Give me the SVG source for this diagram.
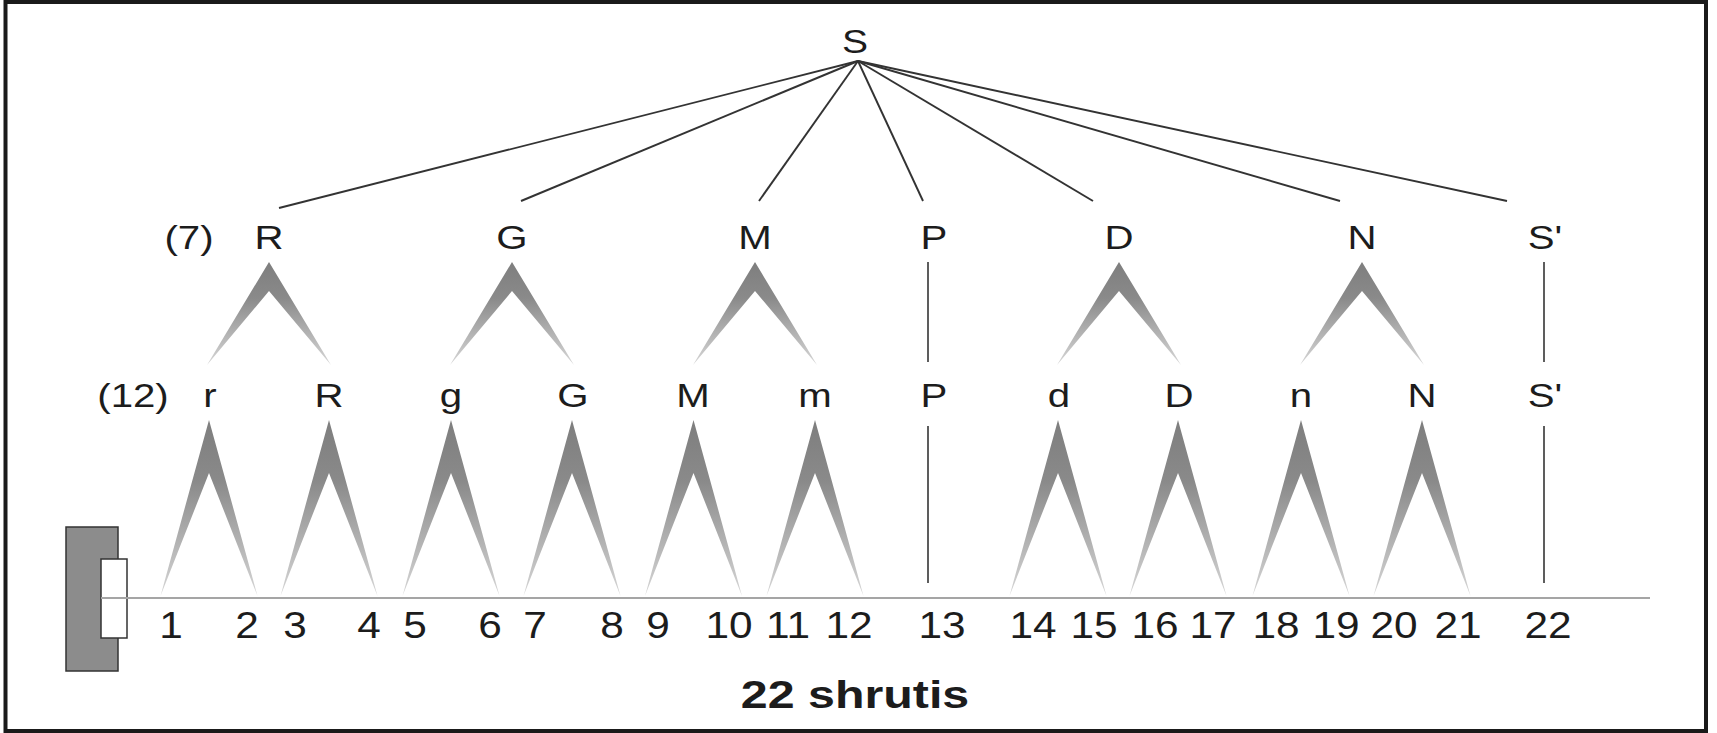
<svg xmlns="http://www.w3.org/2000/svg" xmlns:xlink="http://www.w3.org/1999/xlink" width="1717" height="733" viewBox="0 0 1717 733">
<style>
text { font-family: "Liberation Sans", Arial, sans-serif; fill: #1c1c1c; text-anchor: middle; }
.lab { font-size: 33.5px; }
.root { font-size: 34px; }
.num { font-size: 37.5px; }
.title { font-size: 39px; font-weight: bold; }
.ray { stroke: #333; stroke-width: 1.9; fill: none; }
.vert { stroke: #555; stroke-width: 1.9; fill: none; }
</style>
<defs>
<linearGradient id="gTop" x1="0" y1="0" x2="0" y2="1">
<stop offset="0" stop-color="#7e7e7e"/>
<stop offset="0.35" stop-color="#8a8a8a"/>
<stop offset="1" stop-color="#d6d6d6"/>
</linearGradient>
<path id="chevTop" d="M0,262 L62,365 L0,291 L-62,365 Z" fill="url(#gTop)"/>
<path id="chevBot" d="M0,420 L48.5,596 L0,473 L-48.5,596 Z" fill="url(#gTop)"/>
</defs>
<rect x="5.5" y="2" width="1700.5" height="729" fill="#fff" stroke="#1a1a1a" stroke-width="4"/>

<g id="connectors">
<line class="ray" x1="858" y1="61" x2="279" y2="208"/>
<line class="ray" x1="858" y1="61" x2="521" y2="201"/>
<line class="ray" x1="858" y1="61" x2="759" y2="201"/>
<line class="ray" x1="858" y1="61" x2="923" y2="201"/>
<line class="ray" x1="858" y1="61" x2="1093" y2="201"/>
<line class="ray" x1="858" y1="61" x2="1340" y2="201"/>
<line class="ray" x1="858" y1="61" x2="1507" y2="201"/>
<use xlink:href="#chevTop" x="269"/>
<use xlink:href="#chevTop" x="512"/>
<use xlink:href="#chevTop" x="755"/>
<use xlink:href="#chevTop" x="1119"/>
<use xlink:href="#chevTop" x="1362"/>
<line class="vert" x1="928" y1="262" x2="928" y2="362"/>
<line class="vert" x1="1544" y1="262" x2="1544" y2="362"/>
<use xlink:href="#chevBot" x="209"/>
<use xlink:href="#chevBot" x="329"/>
<use xlink:href="#chevBot" x="451"/>
<use xlink:href="#chevBot" x="572"/>
<use xlink:href="#chevBot" x="693.5"/>
<use xlink:href="#chevBot" x="815"/>
<use xlink:href="#chevBot" x="1058"/>
<use xlink:href="#chevBot" x="1178"/>
<use xlink:href="#chevBot" x="1301"/>
<use xlink:href="#chevBot" x="1422"/>
<line class="vert" x1="928" y1="426" x2="928" y2="583"/>
<line class="vert" x1="1544" y1="426" x2="1544" y2="583"/>
</g>

<g id="instrument">
<rect x="66" y="527" width="52" height="144" fill="#8c8c8c" stroke="#333" stroke-width="1.5"/>
<rect x="101" y="559" width="26" height="79" fill="#fff" stroke="#333" stroke-width="1.5"/>
<line x1="101" y1="598" x2="1650" y2="598" stroke="#a5a5a5" stroke-width="2"/>
</g>

<g id="node-S"><text class="root" transform="matrix(1.15 0 0 1 855 53)">S</text></g>

<g id="level7">
<text class="lab" transform="matrix(1.2 0 0 1 189 249)">(7)</text>
<g id="node-R7"><text class="lab" transform="matrix(1.2 0 0 1 269 249)">R</text></g>
<g id="node-G7"><text class="lab" transform="matrix(1.2 0 0 1 512 249)">G</text></g>
<g id="node-M7"><text class="lab" transform="matrix(1.2 0 0 1 755 249)">M</text></g>
<g id="node-P7"><text class="lab" transform="matrix(1.2 0 0 1 934 249)">P</text></g>
<g id="node-D7"><text class="lab" transform="matrix(1.2 0 0 1 1119 249)">D</text></g>
<g id="node-N7"><text class="lab" transform="matrix(1.2 0 0 1 1362 249)">N</text></g>
<g id="node-S7"><text class="lab" transform="matrix(1.2 0 0 1 1545 249)">S'</text></g>
</g>

<g id="level12">
<text class="lab" transform="matrix(1.2 0 0 1 133 407)">(12)</text>
<g id="node-r12"><text class="lab" transform="matrix(1.2 0 0 1 210 407)">r</text></g>
<g id="node-R12"><text class="lab" transform="matrix(1.2 0 0 1 329 407)">R</text></g>
<g id="node-g12"><text class="lab" transform="matrix(1.2 0 0 1 451 407)">g</text></g>
<g id="node-G12"><text class="lab" transform="matrix(1.2 0 0 1 573 407)">G</text></g>
<g id="node-M12"><text class="lab" transform="matrix(1.2 0 0 1 693 407)">M</text></g>
<g id="node-m12"><text class="lab" transform="matrix(1.2 0 0 1 815 407)">m</text></g>
<g id="node-P12"><text class="lab" transform="matrix(1.2 0 0 1 934 407)">P</text></g>
<g id="node-d12"><text class="lab" transform="matrix(1.2 0 0 1 1059 407)">d</text></g>
<g id="node-D12"><text class="lab" transform="matrix(1.2 0 0 1 1179 407)">D</text></g>
<g id="node-n12"><text class="lab" transform="matrix(1.2 0 0 1 1301 407)">n</text></g>
<g id="node-N12"><text class="lab" transform="matrix(1.2 0 0 1 1422 407)">N</text></g>
<g id="node-S12"><text class="lab" transform="matrix(1.2 0 0 1 1545 407)">S'</text></g>
</g>

<g id="shrutis">
<text class="num" transform="matrix(1.13 0 0 1 171 638)">1</text>
<text class="num" transform="matrix(1.13 0 0 1 247 638)">2</text>
<text class="num" transform="matrix(1.13 0 0 1 295 638)">3</text>
<text class="num" transform="matrix(1.13 0 0 1 369 638)">4</text>
<text class="num" transform="matrix(1.13 0 0 1 415 638)">5</text>
<text class="num" transform="matrix(1.13 0 0 1 490 638)">6</text>
<text class="num" transform="matrix(1.13 0 0 1 535 638)">7</text>
<text class="num" transform="matrix(1.13 0 0 1 612 638)">8</text>
<text class="num" transform="matrix(1.13 0 0 1 658 638)">9</text>
<text class="num" transform="matrix(1.13 0 0 1 729 638)">10</text>
<text class="num" transform="matrix(1.13 0 0 1 788 638)">11</text>
<text class="num" transform="matrix(1.13 0 0 1 849 638)">12</text>
<text class="num" transform="matrix(1.13 0 0 1 942 638)">13</text>
<text class="num" transform="matrix(1.13 0 0 1 1033 638)">14</text>
<text class="num" transform="matrix(1.13 0 0 1 1094 638)">15</text>
<text class="num" transform="matrix(1.13 0 0 1 1155 638)">16</text>
<text class="num" transform="matrix(1.13 0 0 1 1213 638)">17</text>
<text class="num" transform="matrix(1.13 0 0 1 1276 638)">18</text>
<text class="num" transform="matrix(1.13 0 0 1 1336 638)">19</text>
<text class="num" transform="matrix(1.13 0 0 1 1394 638)">20</text>
<text class="num" transform="matrix(1.13 0 0 1 1458 638)">21</text>
<text class="num" transform="matrix(1.13 0 0 1 1548 638)">22</text>
</g>

<g id="title"><text class="title" transform="matrix(1.24 0 0 1 855 708)">22 shrutis</text></g>
</svg>
